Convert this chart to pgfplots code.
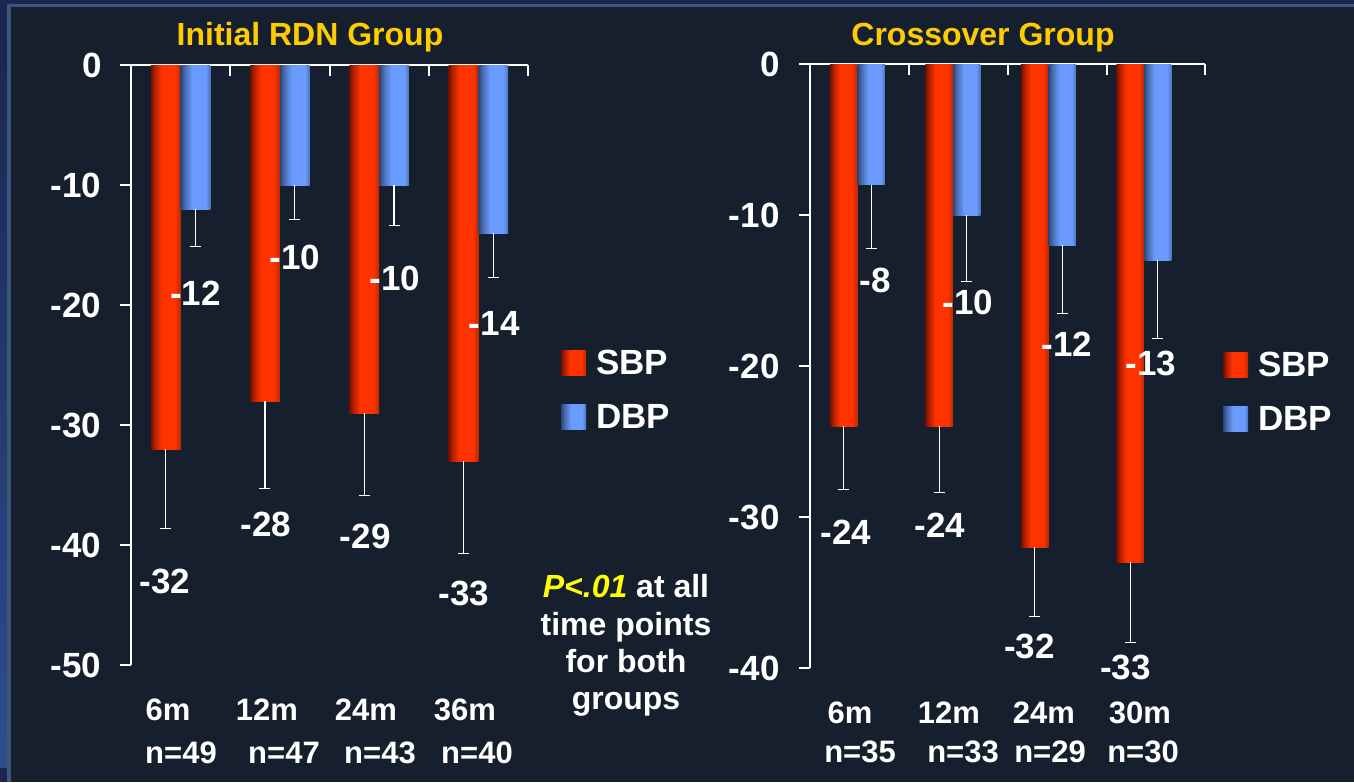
\documentclass[border=0pt]{standalone}
\usepackage{pgfplots}
\pgfplotsset{compat=1.18}
\usepackage{pgfplotstable}
\usepackage{fontspec}
\setmainfont{Liberation Sans}
\definecolor{bgdark}{HTML}{151F2D}
\definecolor{outer}{HTML}{1A2550}
\definecolor{outerblue}{HTML}{2E4E8E}
\definecolor{framec}{HTML}{3C5678}
\definecolor{gold}{HTML}{FFCC00}
\definecolor{pyellow}{HTML}{FFFF00}
\definecolor{sbpA}{HTML}{6E1200}
\definecolor{sbpB}{HTML}{B82000}
\definecolor{sbpC}{HTML}{FF3300}
\definecolor{sbpD}{HTML}{C02800}
\definecolor{dbpA}{HTML}{2C4478}
\definecolor{dbpB}{HTML}{4A6CB0}
\definecolor{dbpC}{HTML}{6A9CFF}
\definecolor{dbpD}{HTML}{4D72B8}
\pgfdeclarehorizontalshading{sbpshade}{100bp}{color(0bp)=(sbpA); color(25bp)=(sbpA); color(32bp)=(sbpB); color(43bp)=(sbpC); color(65bp)=(sbpC); color(75bp)=(sbpD); color(100bp)=(sbpD)}
\pgfdeclarehorizontalshading{dbpshade}{100bp}{color(0bp)=(dbpA); color(25bp)=(dbpA); color(32bp)=(dbpB); color(45bp)=(dbpC); color(67bp)=(dbpC); color(75bp)=(dbpD); color(100bp)=(dbpD)}

\pgfplotstableread{
x sbp sbperr dbp dbperr
1 -32 6.6 -12 3.1
2 -28 7.3 -10 2.9
3 -29 6.9 -10 3.4
4 -33 7.7 -14 3.7
}\leftdata
\pgfplotstableread{
x sbp sbperr dbp dbperr
1 -24 4.2 -8 4.2
2 -24 4.4 -10 4.4
3 -32 4.6 -12 4.5
4 -33 5.3 -13 5.2
}\rightdata

\pgfplotsset{
 bpaxis/.style={
  scale only axis, anchor=south west, clip=false,
  axis x line=top, axis y line=left,
  axis line style={-, white, line width=2pt},
  ybar=0pt,
  xtick align=inside, ytick align=outside,
  major tick length=11pt,
  tick style={white, line width=2pt},
  xticklabels={},
  yticklabel style={font=\fontsize{35}{42}\selectfont\bfseries, text=white, anchor=east, /pgf/number format/assume math mode=true},
  legend style={draw=none, fill=none, text=white, font=\fontsize{35}{42}\selectfont\bfseries, inner sep=0pt, row sep=28pt, column sep=10pt, nodes={inner sep=0pt}, anchor=north west},
  legend cell align=left,
  legend image code/.code={\path[##1] (0pt,-12pt) rectangle (25pt,13pt);},
  error bars/y dir=minus, error bars/y explicit,
  error bars/error bar style={white, line width=1.2pt},
  error bars/error mark options={rotate=90, white, mark size=5.5pt, line width=1.2pt},
 },
 sbpbar/.style={draw=none, shade, shading=sbpshade},
 dbpbar/.style={draw=none, shade, shading=dbpshade},
}
\tikzset{
 val/.style={font=\fontsize{35}{42}\selectfont\bfseries, text=white, inner sep=0pt, anchor=base},
 cat/.style={font=\fontsize{31}{37}\selectfont\bfseries, text=white, inner sep=0pt, anchor=base},
 ttl/.style={font=\fontsize{32}{38}\selectfont\bfseries, text=gold, inner sep=0pt, anchor=base},
 ptxt/.style={font=\fontsize{32}{38}\selectfont\bfseries, text=white, inner sep=0pt, anchor=base},
}

\begin{document}
\begin{tikzpicture}
\useasboundingbox (0,0) rectangle (1354pt,-782pt);
\fill[outer] (0,0) rectangle (1354pt,-782pt);
\fill[top color=outer, bottom color=outerblue] (0,-20pt) rectangle (7pt,-767pt);
\fill[framec] (7pt,-4pt) rectangle (1354pt,-782pt);
\fill[bgdark] (11pt,-7pt) rectangle (1354pt,-782pt);

% ---------- left chart ----------
\begin{axis}[bpaxis,
  at={(131pt,-665pt)}, width=397pt, height=600pt,
  xmin=0.5, xmax=4.5, ymin=-50, ymax=0,
  xtick={1.5,2.5,3.5,4.5},
  ytick={0,-10,-20,-30,-40,-50},
  yticklabel style={xshift=-15pt},
  bar width=0.3,
  legend style={at={(axis description cs:1.0831,0.525)}},
]
\addlegendimage{sbpbar}
\addlegendentry{SBP}
\addlegendimage{dbpbar}
\addlegendentry{DBP}
\pgfplotsinvokeforeach{1,2,3,4}{
  \addplot[sbpbar, forget plot, bar shift=-0.15, restrict x to domain=#1:#1]
    table[x=x, y=sbp, y error=sbperr] {\leftdata};
  \addplot[dbpbar, forget plot, bar shift=0.15, restrict x to domain=#1:#1]
    table[x=x, y=dbp, y error=dbperr] {\leftdata};
}
\node[val] at (axis cs:0.84,-44.0) {-32};
\node[val] at (axis cs:1.86,-39.33) {-28};
\node[val] at (axis cs:2.86,-40.33) {-29};
\node[val] at (axis cs:3.855,-45.0) {-33};
\node[val] at (axis cs:1.15,-20.0) {-12};
\node[val] at (axis cs:2.15,-17.08) {-10};
\node[val] at (axis cs:3.16,-18.75) {-10};
\node[val] at (axis cs:4.16,-22.58) {-14};
\end{axis}

% ---------- right chart ----------
\begin{axis}[bpaxis,
  at={(810pt,-668pt)}, width=395pt, height=604pt,
  xmin=0.503, xmax=4.639, ymin=-40, ymax=0,
  xtick={1.539,2.576,3.613,4.639},
  ytick={0,-10,-20,-30,-40},
  yticklabel style={xshift=-16pt},
  bar width=0.288,
  legend style={at={(axis description cs:1.0456,0.5232)}},
]
\addlegendimage{sbpbar}
\addlegendentry{SBP}
\addlegendimage{dbpbar}
\addlegendentry{DBP}
\pgfplotsinvokeforeach{1,2,3,4}{
  \addplot[sbpbar, forget plot, bar shift=-0.144, restrict x to domain=#1:#1]
    table[x=x, y=sbp, y error=sbperr] {\rightdata};
  \addplot[dbpbar, forget plot, bar shift=0.144, restrict x to domain=#1:#1]
    table[x=x, y=dbp, y error=dbperr] {\rightdata};
}
\node[val] at (axis cs:0.880,-31.79) {-24};
\node[val] at (axis cs:1.864,-31.39) {-24};
\node[val] at (axis cs:2.801,-39.34) {-32};
\node[val] at (axis cs:3.806,-40.79) {-33};
\node[val] at (axis cs:1.183,-15.10) {-8};
\node[val] at (axis cs:2.157,-16.62) {-10};
\node[val] at (axis cs:3.194,-19.40) {-12};
\node[val] at (axis cs:4.073,-20.60) {-13};
\end{axis}

% titles
\node[ttl] at (310pt,-45pt) {Initial RDN Group};
\node[ttl] at (983pt,-45pt) {Crossover Group};

% category labels, left
\node[cat] at (168pt,-720pt) {6m};
\node[cat] at (181pt,-763pt) {n=49};
\node[cat] at (267pt,-720pt) {12m};
\node[cat] at (284pt,-763pt) {n=47};
\node[cat] at (366pt,-720pt) {24m};
\node[cat] at (380pt,-763pt) {n=43};
\node[cat] at (465pt,-720pt) {36m};
\node[cat] at (477pt,-763pt) {n=40};
% category labels, right
\node[cat] at (850pt,-723pt) {6m};
\node[cat] at (860pt,-762pt) {n=35};
\node[cat] at (949pt,-723pt) {12m};
\node[cat] at (963pt,-762pt) {n=33};
\node[cat] at (1044pt,-723pt) {24m};
\node[cat] at (1050pt,-762pt) {n=29};
\node[cat] at (1140pt,-723pt) {30m};
\node[cat] at (1143pt,-762pt) {n=30};

% p-value note
\node[ptxt] at (626pt,-597pt) {{\color{pyellow}\itshape P<.01} at all};
\node[ptxt] at (626pt,-635pt) {time points};
\node[ptxt] at (626pt,-672pt) {for both};
\node[ptxt] at (626pt,-709pt) {groups};
\end{tikzpicture}
\end{document}
